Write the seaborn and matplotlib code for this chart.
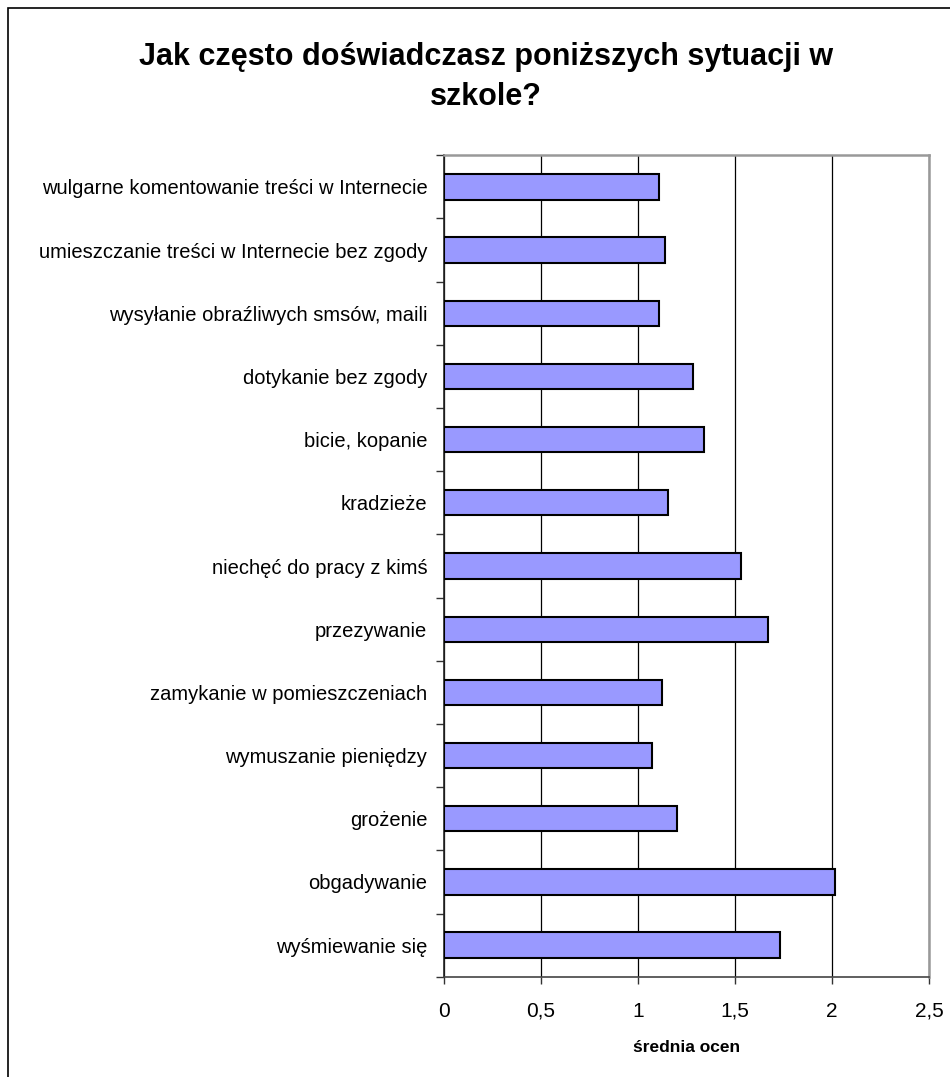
import matplotlib
matplotlib.use("Agg")
import matplotlib.pyplot as plt
from matplotlib.patches import Rectangle
import seaborn as sns
import pandas as pd
import numpy as np

categories = [
    "wulgarne komentowanie treści w Internecie",
    "umieszczanie treści w Internecie bez zgody",
    "wysyłanie obraźliwych smsów, maili",
    "dotykanie bez zgody",
    "bicie, kopanie",
    "kradzieże",
    "niechęć do pracy z kimś",
    "przezywanie",
    "zamykanie w pomieszczeniach",
    "wymuszanie pieniędzy",
    "grożenie",
    "obgadywanie",
    "wyśmiewanie się",
]
values = [1.107, 1.139, 1.107, 1.285, 1.342, 1.155, 1.529, 1.668, 1.122, 1.072, 1.203, 2.017, 1.732]
x_ticks = [0, 0.5, 1, 1.5, 2, 2.5]
x_ticklabels = ["0", "0,5", "1", "1,5", "2", "2,5"]
title_lines = ["Jak często doświadczasz poniższych sytuacji w", "szkole?"]
x_label = "średnia ocen"

sns.set_theme(style="white")
plt.rcParams['font.family'] = ['Liberation Sans', 'DejaVu Sans']
plt.rcParams['text.color'] = 'black'
plt.rcParams['axes.labelcolor'] = 'black'

df = pd.DataFrame({"cat": categories, "val": values})

fig = plt.figure(figsize=(9.5, 10.77), dpi=100)
ax = fig.add_axes([444/950, 1-976.7/1077, (929-444)/950, (976.7-155.3)/1077])

sns.barplot(data=df, y="cat", x="val", orient="h", color="#9999FF",
            saturation=1, edgecolor="black", linewidth=1.5, width=0.4, ax=ax, zorder=3)

ax.set_xlim(0, 2.5)
ax.set_ylim(len(categories) - 0.5, -0.5)
ax.set_xticks(x_ticks)
ax.set_xticklabels(x_ticklabels, fontsize=15)
ax.grid(axis="x", color="black", linewidth=0.9, zorder=0)
ax.set_axisbelow(True)

ax.set_yticks(range(len(categories)))
ax.set_yticklabels(categories, fontsize=14.5)
ax.tick_params(axis="y", which="major", length=0, pad=12, labelcolor="black")
ax.set_yticks(np.arange(-0.5, len(categories), 1.0), minor=True)
ax.tick_params(axis="y", which="minor", length=6, width=1, color="#333333", direction="out", left=True)
ax.tick_params(axis="x", which="major", length=5, width=1, color="#333333", direction="out",
               bottom=True, pad=13, labelcolor="black")

ax.set_ylabel("")
ax.set_xlabel(x_label, fontsize=12.5, fontweight="bold", labelpad=14, color="black")

for side in ["top", "right"]:
    ax.spines[side].set_color("#999999")
    ax.spines[side].set_linewidth(1.8)
ax.spines["left"].set_color("#222222")
ax.spines["left"].set_linewidth(1.2)
ax.spines["bottom"].set_color("#444444")
ax.spines["bottom"].set_linewidth(1.2)

fig.text(486/950, 1-65/1077, title_lines[0], ha="center", va="baseline", fontsize=22,
         fontweight="bold", color="black")
fig.text(486/950, 1-105/1077, title_lines[1], ha="center", va="baseline", fontsize=22,
         fontweight="bold", color="black")

fig.patches.append(Rectangle((8/950, -0.1), 1.2, 1 - 8/1077 + 0.1, transform=fig.transFigure,
                             fill=False, edgecolor="black", linewidth=1.2))

fig.savefig("out.png", dpi=100)
